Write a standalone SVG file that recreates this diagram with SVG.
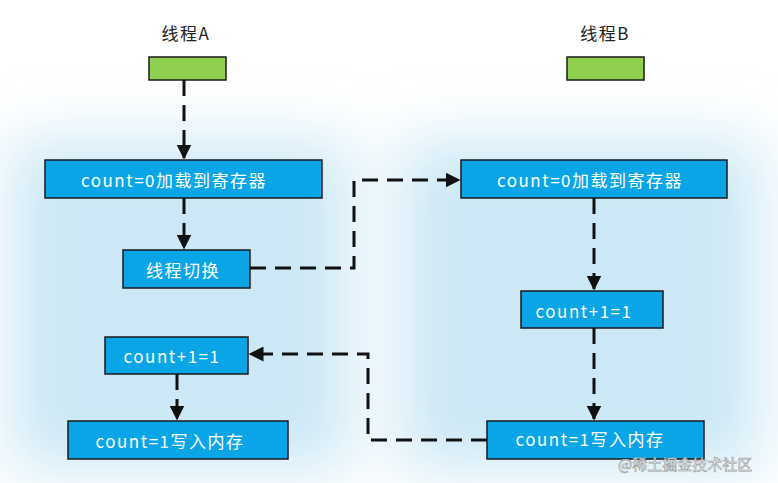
<svg xmlns="http://www.w3.org/2000/svg" width="778" height="483" viewBox="0 0 778 483">
<style>
.box{fill:#0aa5e6;stroke:#1a1a1a;stroke-width:1.5}
.start{fill:#8fd14f;stroke:#1a1a1a;stroke-width:1.5}
.t{font-family:"Noto Sans CJK SC","Noto Sans",sans-serif;font-size:17px;fill:#fff;text-anchor:middle;dominant-baseline:central;letter-spacing:1.5px}
.h{font-family:"Noto Sans CJK SC","Noto Sans",sans-serif;font-size:17px;fill:#222;text-anchor:middle;dominant-baseline:central;letter-spacing:1.5px}
.c{fill:none;stroke:#111;stroke-width:3;stroke-dasharray:16 9}
</style>
<defs>
<marker id="ah" viewBox="0 0 10 10" refX="9" refY="5" markerWidth="5" markerHeight="5" orient="auto"><path d="M0,0L10,5L0,10z" fill="#111"/></marker>
<filter id="bl" x="-30%" y="-30%" width="160%" height="160%"><feGaussianBlur stdDeviation="30"/></filter>
</defs>
<rect width="778" height="483" fill="#fff"/>
<g filter="url(#bl)" fill="#cce8f6">
<rect x="10" y="140" width="340" height="330"/>
<rect x="400" y="140" width="360" height="330"/>
</g>
<g id="connectors">
<path class="c" d="M184,80V158" marker-end="url(#ah)"/>
<path class="c" d="M184,198V248" marker-end="url(#ah)"/>
<path class="c" d="M250,268H354V180H459" marker-end="url(#ah)"/>
<path class="c" d="M594,198V289" marker-end="url(#ah)"/>
<path class="c" d="M594,328V419" marker-end="url(#ah)"/>
<path class="c" d="M487,440H368V354H250" marker-end="url(#ah)"/>
<path class="c" d="M177,374V419" marker-end="url(#ah)"/>
</g>
<g id="threadA"><text class="h" x="186" y="32">线程A</text><rect class="start" x="149" y="57" width="77" height="23"/></g>
<g id="threadB"><text class="h" x="605" y="32">线程B</text><rect class="start" x="567" y="57" width="77" height="23"/></g>
<g id="a1"><rect class="box" x="45" y="160" width="277" height="38"/><text class="t" x="174" y="179">count=0加载到寄存器</text></g>
<g id="a2"><rect class="box" x="123" y="250" width="127" height="38"/><text class="t" x="183" y="269">线程切换</text></g>
<g id="a3"><rect class="box" x="105" y="337" width="143" height="37"/><text class="t" x="172" y="355">count+1=1</text></g>
<g id="a4"><rect class="box" x="68" y="421" width="220" height="38"/><text class="t" x="170" y="440">count=1写入内存</text></g>
<g id="b1"><rect class="box" x="461" y="160" width="266" height="38"/><text class="t" x="590" y="179">count=0加载到寄存器</text></g>
<g id="b2"><rect class="box" x="521" y="291" width="142" height="37"/><text class="t" x="584" y="310">count+1=1</text></g>
<g id="b3"><rect class="box" x="487" y="421" width="217" height="38"/><text class="t" x="590" y="438">count=1写入内存</text></g>
<text x="618" y="470" font-family="Noto Sans CJK SC,sans-serif" font-size="15" fill="#fff" stroke="#999" stroke-width="0.6">@稀土掘金技术社区</text>
</svg>
